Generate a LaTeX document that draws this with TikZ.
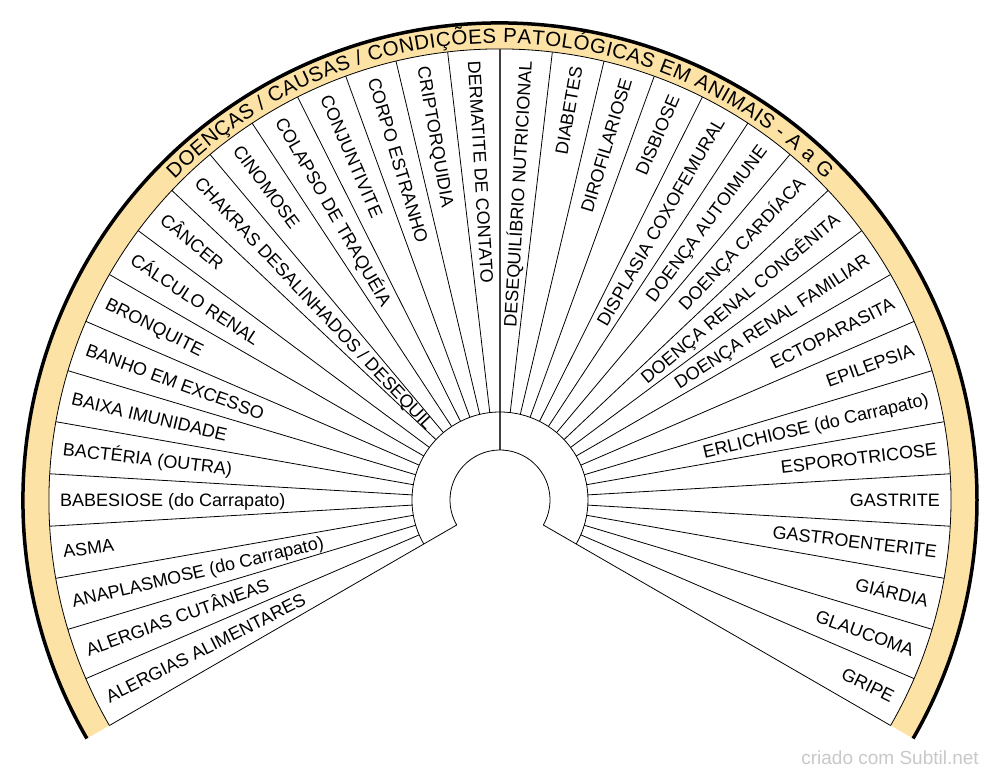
\documentclass[tikz,border=0pt]{standalone}
\usepackage{fontspec}
\setmainfont{Liberation Sans}
\usepackage{xcolor}
\usetikzlibrary{decorations.text}
\definecolor{bandfill}{RGB}{253,226,166}
\definecolor{markgray}{RGB}{200,200,200}
\tikzset{
  spoke/.style={line width=0.8pt},
  lbl/.style={font=\fontsize{18}{20}\selectfont, inner sep=0pt, text height=12.9pt, text depth=0pt},
  lbl left/.style={lbl, anchor=west, rotate=#1+180},
  lbl right/.style={lbl, anchor=east, rotate=#1}
}
\begin{document}
\begin{tikzpicture}[x=1pt,y=1pt]
\useasboundingbox (-500,-279) rectangle (500,500);
\coordinate (0) at (0,0);
\fill[bandfill] (210:451pt) arc[start angle=210, end angle=-30, radius=451pt]
  -- (-30:477pt) arc[start angle=-30, end angle=210, radius=477pt] -- cycle;
\draw[spoke] (210:451pt) arc[start angle=210, end angle=-30, radius=451pt];
\draw[line width=3.5pt] (210:477pt) arc[start angle=210, end angle=-30, radius=477pt];
\path[decorate, decoration={text along path, text align=fit to path,
  text={|\fontsize{20.5}{22}\selectfont|DOENÇAS / CAUSAS / CONDIÇÕES PATOLÓGICAS EM ANIMAIS - A a G}}]
  (135.4:457pt) arc[start angle=135.4, end angle=44.6, radius=457pt];
\foreach \k in {0,...,36} {
  \pgfmathsetmacro\a{210-\k*20/3}
  \draw[spoke] (\a:88pt) -- (\a:451pt);
}
\draw[spoke] (210:50pt) -- (210:88pt);
\draw[spoke] (-30:50pt) -- (-30:88pt);
\draw[line width=1.5pt, black!75] (90:50pt) -- (90:451pt);
\draw[spoke] (210:88pt) arc[start angle=210, end angle=-30, radius=88pt];
\draw[spoke] (210:50pt) arc[start angle=210, end angle=-30, radius=50pt];
\foreach \txt [count=\i] in {ALERGIAS ALIMENTARES, ALERGIAS CUTÂNEAS, ANAPLASMOSE (do Carrapato),
  ASMA, BABESIOSE (do Carrapato), BACTÉRIA (OUTRA), BAIXA IMUNIDADE, BANHO EM EXCESSO,
  BRONQUITE, CÁLCULO RENAL, CÂNCER, CHAKRAS DESALINHADOS / DESEQUIL, CINOMOSE,
  COLAPSO DE TRAQUÉIA, CONJUNTIVITE, CORPO ESTRANHO, CRIPTORQUIDIA, DERMATITE DE CONTATO,
  DESEQUILÍBRIO NUTRICIONAL, DIABETES, DIROFILARIOSE, DISBIOSE, DISPLASIA COXOFEMURAL,
  DOENÇA AUTOIMUNE, DOENÇA CARDÍACA, DOENÇA RENAL CONGÊNITA, DOENÇA RENAL FAMILIAR,
  ECTOPARASITA, EPILEPSIA, ERLICHIOSE (do Carrapato), ESPOROTRICOSE, GASTRITE,
  GASTROENTERITE, GIÁRDIA, GLAUCOMA, GRIPE} {
  \pgfmathsetmacro\a{210-(\i-0.5)*20/3}
  \ifnum\i<19
    \node[lbl left=\a] (lbl\i) at (\a:440pt) {\txt};
  \else
    \node[lbl right=\a] (lbl\i) at (\a:440pt) {\txt};
  \fi
}
\node[anchor=base east, text=markgray, font=\fontsize{19}{22}\selectfont, inner sep=0pt] (mark) at (479,-264) {criado com Subtil.net};
\end{tikzpicture}
\end{document}
